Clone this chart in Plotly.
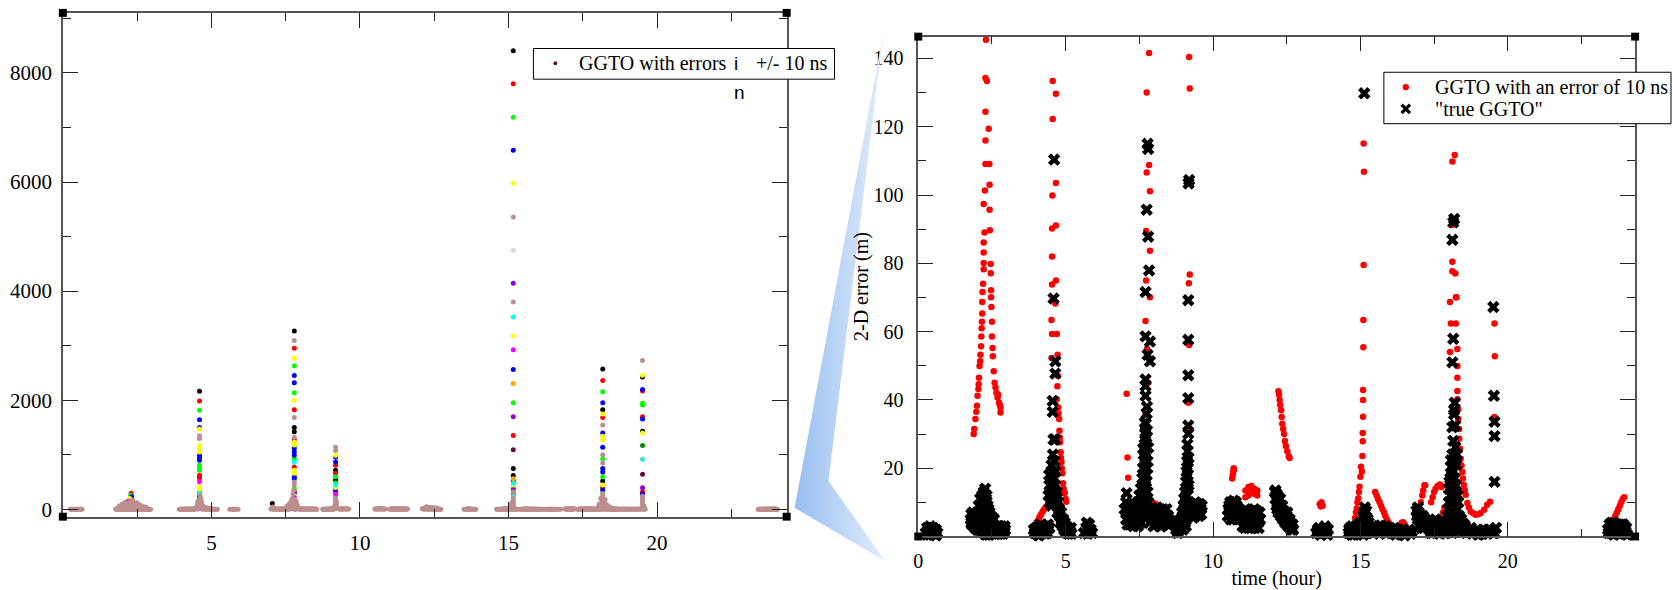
import plotly.graph_objects as go

W, H = 1672, 590

# ---------------------------------------------------------------------------
# Right panel: 2-D positioning error (m) versus time of day (hour)
# ---------------------------------------------------------------------------
# GGTO with an error of 10 ns  -> (hour, error in m)
ggto_10ns = [
    # pass around 2 h
    (1.88, 30.0), (1.90, 31.5), (1.94, 34.4), (1.97, 36.5), (1.99, 38.3), (2.01, 41.2),
    (2.04, 43.2), (2.05, 44.6), (2.06, 46.5), (2.08, 49.9), (2.10, 51.3), (2.11, 53.2),
    (2.13, 55.7), (2.14, 58.6), (2.15, 61.0), (2.16, 62.9), (2.17, 65.3), (2.17, 68.7),
    (2.18, 71.6), (2.20, 74.0), (2.22, 78.3), (2.22, 80.1), (2.22, 83.2), (2.22, 86.1),
    (2.25, 89.0), (2.22, 97.4), (2.26, 101.3), (2.28, 109.1), (2.28, 116.0), (2.28, 124.4),
    (2.28, 134.3), (2.33, 133.4), (2.30, 145.5),
    (2.39, 119.4), (2.41, 109.1), (2.42, 103.0), (2.42, 95.7), (2.43, 89.7), (2.46, 79.8),
    (2.46, 77.1), (2.47, 72.1), (2.47, 70.1), (2.48, 67.2), (2.50, 62.9), (2.50, 58.6),
    (2.52, 55.2), (2.53, 52.8), (2.56, 48.4), (2.59, 45.0), (2.62, 43.6), (2.65, 42.1),
    (2.69, 40.7), (2.71, 41.5), (2.74, 39.2), (2.77, 38.5), (2.79, 37.8), (2.79, 36.3),
    # around 4-5 h
    (4.03, 4.3), (4.08, 5.0), (4.12, 5.8), (4.17, 6.5), (4.22, 7.3), (4.27, 8.0),
    (4.33, 8.6), (4.40, 9.3), (4.43, 10.0),
    (4.56, 133.4), (4.67, 129.7), (4.56, 122.3), (4.67, 103.5), (4.55, 99.9), (4.67, 91.1),
    (4.54, 90.2), (4.54, 82.0), (4.67, 75.0), (4.54, 73.8), (4.65, 68.2), (4.52, 63.4),
    (4.54, 59.3), (4.70, 59.3), (4.52, 52.3), (4.73, 53.2), (4.74, 47.0), (4.72, 44.0),
    (4.70, 40.2), (4.75, 37.8), (4.76, 36.0), (4.78, 34.4), (4.79, 31.0), (4.80, 29.0),
    (4.81, 27.6), (4.83, 24.7), (4.84, 23.0), (4.86, 21.8), (4.87, 20.0), (4.89, 18.5),
    (4.91, 15.6), (4.93, 14.0), (4.97, 12.7), (5.00, 11.0), (5.02, 10.2),
    # around 7-8.5 h
    (7.07, 41.8), (7.10, 23.1), (7.12, 17.2),
    (7.83, 141.6), (7.75, 130.0), (7.83, 108.8), (7.75, 106.6), (7.86, 101.1), (7.73, 89.5),
    (7.86, 83.7), (7.73, 75.0), (7.86, 70.1), (7.71, 63.1), (7.76, 55.0), (7.80, 45.0),
    (7.71, 35.8), (7.74, 33.0), (7.69, 30.5), (7.67, 28.1),
    (7.89, 10.4), (7.92, 10.2), (7.98, 9.8), (8.04, 9.5), (8.09, 9.3), (8.15, 8.8),
    (8.20, 8.3), (8.26, 7.8), (8.31, 7.4), (8.37, 6.9), (8.43, 6.4),
    # around 9 h
    (9.19, 140.4), (9.21, 131.2), (9.21, 76.7), (9.18, 74.2), (9.19, 56.1), (9.16, 39.2),
    (9.16, 31.0), (9.14, 24.7), (9.12, 20.0), (9.10, 15.0), (9.05, 8.0), (8.85, 2.0),
    (8.76, 1.5),
    # 10.5-14 h
    (10.65, 17.0), (10.67, 18.0), (10.69, 19.0), (10.71, 19.5), (10.70, 20.0),
    (11.1, 11.5), (11.1, 13.5), (11.2, 12.0), (11.2, 14.5), (11.3, 13.0), (11.3, 14.8),
    (11.4, 12.5), (11.4, 14.0), (11.5, 13.5), (11.5, 12.0),
    (12.22, 42.5), (12.24, 41.5), (12.26, 40.0), (12.28, 38.5), (12.31, 37.0), (12.33, 35.0),
    (12.35, 33.0), (12.38, 31.5), (12.41, 30.0), (12.44, 28.0), (12.47, 26.5), (12.52, 25.0),
    (12.57, 23.5), (12.60, 23.0),
    (13.62, 9.5), (13.68, 10.0), (13.72, 9.0), (13.66, 8.8),
    # around 15 h
    (15.11, 115.1), (15.12, 106.8), (15.11, 79.5), (15.10, 63.4), (15.10, 55.4), (15.09, 42.9),
    (15.09, 40.0), (15.09, 35.1), (15.08, 30.3), (15.08, 27.9), (15.07, 23.6), (15.02, 20.4),
    (15.05, 19.0), (15.00, 17.5), (14.97, 14.6), (14.95, 13.0), (14.93, 11.2), (14.90, 10.0),
    (14.88, 8.3), (14.85, 7.0), (14.82, 5.4), (14.74, 3.0),
    (15.50, 13.0), (15.55, 12.0), (15.60, 11.0), (15.65, 10.0), (15.70, 9.0), (15.75, 8.0),
    (15.80, 7.0), (15.85, 6.0), (15.90, 5.0), (15.95, 4.2), (16.00, 3.5), (16.05, 3.0),
    (16.35, 3.0), (16.40, 4.0), (16.45, 4.2), (16.50, 3.5), (16.55, 2.8),
    # 17-19.6 h
    (16.95, 6.0), (17.00, 8.0), (17.05, 10.0), (17.10, 12.0), (17.13, 13.5), (17.17, 15.0),
    (17.20, 15.0),
    (17.40, 10.0), (17.45, 11.5), (17.50, 13.0), (17.55, 14.0), (17.62, 14.8), (17.70, 15.2),
    (17.75, 14.5),
    (17.80, 7.0), (17.85, 8.5), (17.90, 7.5), (17.95, 8.0), (18.00, 7.0),
    (18.12, 109.8), (18.20, 111.7), (18.12, 91.2), (18.12, 80.5), (18.12, 77.7), (18.22, 77.0),
    (18.24, 70.1), (18.04, 68.7), (18.26, 70.1), (18.07, 62.4), (18.24, 62.4), (18.04, 54.0),
    (18.29, 54.9), (18.29, 49.9), (18.29, 46.5), (18.29, 42.6), (18.29, 40.2), (18.32, 37.3),
    (18.32, 34.4), (18.35, 31.5), (18.35, 28.6), (18.38, 25.7), (18.40, 22.8), (18.43, 20.8),
    (18.46, 18.9), (18.48, 17.0), (18.51, 15.1), (18.54, 13.6), (18.57, 12.2), (18.63, 9.8),
    (18.68, 8.5), (18.74, 7.3), (18.83, 6.8), (18.91, 6.4), (19.00, 6.5), (19.08, 6.9),
    (19.20, 7.8), (19.30, 9.3), (19.40, 10.2),
    (19.55, 62.4), (19.56, 52.8), (19.55, 35.0),
    # around 23.5 h
    (23.50, 3.0), (23.55, 4.0), (23.60, 5.0), (23.65, 6.0), (23.70, 7.0), (23.75, 8.0),
    (23.80, 9.0), (23.85, 10.0), (23.90, 11.0), (23.95, 11.5),
]

# "true GGTO" -> (hour, error in m)
ggto_true = [
    # 0-3 h
    (0.25, 1.0), (0.35, 2.0), (0.40, 0.5), (0.45, 1.5), (0.50, 2.5), (0.55, 1.0), (0.60, 0.3),
    (0.40, 3.0), (0.30, 0.5), (0.30, 2.5), (0.50, 0.8), (0.60, 2.0), (0.65, 1.0),
    (1.78, 5.0), (1.80, 6.5), (1.82, 3.5), (1.85, 5.5), (1.88, 4.0), (1.90, 6.0), (1.93, 2.5),
    (1.95, 5.0), (1.98, 3.5), (2.00, 7.0), (2.02, 4.5), (2.05, 2.0), (2.05, 9.0), (2.08, 6.0),
    (2.10, 11.0), (2.12, 3.0), (2.15, 8.0), (2.17, 12.0), (2.20, 5.0), (2.20, 10.0),
    (2.22, 13.0), (2.25, 7.5), (2.27, 14.0), (2.28, 2.0), (2.30, 11.0), (2.32, 4.0),
    (2.35, 9.0), (2.37, 6.0), (2.40, 3.0), (2.42, 7.0), (2.45, 1.0), (2.47, 4.5), (2.50, 2.5),
    (2.52, 5.5), (2.55, 1.0), (2.60, 3.0), (2.62, 0.8), (2.65, 2.0), (2.70, 1.5), (2.75, 3.0),
    (2.80, 0.8), (2.85, 2.0), (2.90, 1.2), (2.93, 3.0), (2.30, 0.5), (2.15, 1.5),
    (1.80, 4.0), (1.85, 7.0), (1.90, 3.0), (1.95, 6.5), (2.00, 2.0), (2.00, 5.0), (2.05, 6.0),
    (2.10, 4.0), (2.10, 7.0), (2.12, 9.0), (2.15, 5.5), (2.18, 10.0), (2.20, 3.0), (2.20, 7.5),
    (2.25, 11.0), (2.25, 4.0), (2.30, 8.0), (2.30, 2.5), (2.32, 12.0), (2.35, 6.0),
    (2.35, 2.0), (2.38, 8.0), (2.40, 5.0), (2.42, 1.5), (2.45, 6.0), (2.48, 2.5), (2.50, 4.0),
    (2.55, 3.0), (2.57, 5.0), (2.60, 1.5), (2.68, 3.0), (2.72, 0.8), (2.78, 2.0), (2.82, 3.0),
    (2.88, 0.8), (2.95, 2.0), (2.25, 0.8), (2.40, 0.5),
    # 4-6 h
    (3.95, 1.0), (4.00, 2.5), (4.05, 0.5), (4.10, 2.0), (4.15, 3.5), (4.20, 1.0), (4.25, 2.8),
    (4.30, 0.8), (4.35, 2.0), (4.40, 3.5), (4.10, 0.3), (3.92, 2.0), (4.00, 1.0), (4.08, 3.0),
    (4.15, 1.5), (4.22, 2.5), (4.30, 3.0), (4.38, 1.0), (4.45, 2.5),
    (4.61, 110.4), (4.59, 69.7), (4.65, 51.3), (4.65, 47.7), (4.56, 39.7), (4.56, 36.5),
    (4.59, 28.4), (4.64, 28.4), (4.57, 24.0), (4.62, 22.0), (4.52, 20.9), (4.54, 18.9),
    (4.66, 19.0), (4.44, 18.0), (4.45, 15.0), (4.50, 15.0), (4.55, 16.0), (4.60, 17.0),
    (4.42, 12.0), (4.47, 10.0), (4.50, 12.0), (4.55, 13.0), (4.60, 14.0), (4.65, 15.0),
    (4.70, 13.0), (4.52, 9.0), (4.58, 10.0), (4.63, 11.0), (4.68, 12.0), (4.70, 9.0),
    (4.72, 7.0), (4.75, 10.0), (4.78, 8.0), (4.80, 6.0), (4.82, 4.0), (4.85, 7.0), (4.87, 5.0),
    (4.90, 3.0), (4.92, 5.0), (4.95, 2.0), (4.97, 4.0), (5.00, 1.5), (5.02, 3.0), (5.05, 1.0),
    (5.08, 2.5), (5.10, 0.8), (5.12, 2.0), (5.15, 1.5), (5.18, 2.5), (5.20, 0.8),
    (5.62, 1.0), (5.70, 2.5), (5.75, 0.8), (5.80, 3.5), (5.85, 2.0), (5.90, 1.0), (5.72, 4.0),
    # 7-8.6 h
    (7.07, 12.7), (7.10, 3.5), (7.05, 10.0), (7.00, 8.0), (7.05, 5.0), (7.15, 6.0),
    (7.20, 5.0), (7.25, 7.0), (7.30, 6.0), (7.30, 3.0), (7.35, 8.0), (7.40, 9.0), (7.40, 4.0),
    (7.45, 10.0), (7.50, 12.0), (7.50, 5.0), (7.55, 14.0), (7.55, 8.0), (7.60, 17.0),
    (7.60, 10.0), (7.62, 20.0), (7.65, 24.0), (7.65, 12.0), (7.68, 27.0), (7.70, 30.0),
    (7.70, 15.0), (7.72, 33.0), (7.75, 18.0), (7.77, 20.0), (7.78, 22.0), (7.80, 26.0),
    (7.69, 33.4), (7.71, 30.5), (7.63, 25.7), (7.75, 36.0), (7.76, 38.0), (7.71, 41.2),
    (7.71, 44.1), (7.71, 46.0), (7.78, 53.2), (7.86, 51.3), (7.86, 57.1), (7.71, 58.6),
    (7.71, 71.6), (7.83, 77.9), (7.80, 87.8), (7.75, 95.7), (7.80, 113.5), (7.78, 115.0),
    (7.80, 10.0), (7.78, 6.0),
    (7.18, 3.5), (7.22, 8.0), (7.28, 4.5), (7.33, 6.0), (7.38, 7.0), (7.42, 6.0), (7.48, 8.0),
    (7.52, 10.0), (7.58, 12.0), (7.62, 14.0), (7.66, 17.0), (7.68, 20.0), (7.70, 23.0),
    (7.72, 26.0), (7.74, 29.0), (7.76, 31.0), (7.73, 16.0), (7.70, 11.0), (7.66, 8.0),
    (7.60, 6.0), (7.55, 4.0), (7.45, 3.0), (7.78, 13.0), (7.82, 8.0), (7.84, 4.0),
    (7.12, 9.0), (7.10, 7.0),
    (7.95, 5.0), (8.00, 8.0), (8.05, 3.5), (8.10, 6.0), (8.10, 8.5), (8.15, 4.0), (8.20, 7.5),
    (8.25, 3.0), (8.30, 5.5), (8.30, 8.0), (8.35, 4.0), (8.40, 6.5), (8.45, 3.5), (8.50, 5.0),
    (8.55, 4.5), (7.98, 3.0), (8.02, 6.5), (8.08, 4.5), (8.12, 7.0), (8.18, 5.5), (8.22, 3.0),
    (8.28, 7.0), (8.32, 3.5), (8.38, 5.5), (8.42, 8.0), (8.48, 6.0), (8.52, 3.5),
    # 8.7-9.7 h
    (9.19, 104.4), (9.17, 103.4), (9.16, 69.2), (9.16, 57.6), (9.16, 47.2), (9.16, 40.5),
    (9.16, 32.5), (9.16, 30.1), (9.13, 27.0), (9.14, 25.0), (9.12, 22.0), (9.10, 19.0),
    (9.15, 20.0), (9.08, 16.0), (9.17, 15.0), (9.05, 13.0), (9.02, 11.0), (9.15, 10.0),
    (9.00, 9.0), (8.95, 7.0), (9.10, 6.0), (8.90, 5.0), (8.85, 4.0), (9.05, 4.0), (8.80, 3.0),
    (8.90, 2.5), (8.75, 2.0), (8.80, 1.0),
    (8.78, 2.5), (8.82, 1.5), (8.87, 3.5), (8.92, 4.0), (8.97, 6.0), (8.98, 2.0), (9.03, 8.0),
    (9.07, 10.0), (9.10, 12.0), (9.12, 16.0), (9.14, 18.0), (9.13, 8.0), (9.08, 3.0),
    (9.15, 14.0), (9.17, 23.0),
    (9.30, 7.0), (9.35, 9.0), (9.40, 6.0), (9.40, 10.0), (9.45, 8.5), (9.50, 7.5),
    (9.55, 9.5), (9.60, 6.5), (9.32, 5.5), (9.38, 8.0), (9.42, 7.5), (9.48, 9.5), (9.52, 6.0),
    (9.58, 8.0), (9.62, 9.0),
    # 10.5-14 h
    (10.50, 6.0), (10.55, 9.0), (10.60, 5.0), (10.65, 8.0), (10.70, 10.5), (10.75, 6.5),
    (10.80, 9.0), (10.85, 5.5), (10.52, 8.0), (10.58, 10.0), (10.62, 6.5), (10.68, 5.0),
    (10.72, 8.0), (10.78, 10.0), (10.82, 7.0),
    (11.00, 3.0), (11.05, 6.0), (11.10, 8.0), (11.15, 4.0), (11.20, 2.5), (11.25, 7.0),
    (11.30, 5.0), (11.35, 3.0), (11.40, 8.0), (11.45, 4.5), (11.50, 6.5), (11.55, 2.5),
    (11.60, 5.0), (11.02, 5.0), (11.08, 2.5), (11.12, 6.0), (11.18, 7.5), (11.22, 4.0),
    (11.28, 2.5), (11.32, 7.5), (11.38, 5.5), (11.42, 2.5), (11.48, 7.5), (11.52, 4.0),
    (11.58, 7.0),
    (12.10, 13.0), (12.12, 11.0), (12.15, 9.0), (12.15, 12.5), (12.20, 10.0), (12.22, 7.0),
    (12.25, 11.0), (12.28, 8.0), (12.30, 6.0), (12.35, 9.0), (12.38, 5.0), (12.40, 7.5),
    (12.45, 4.0), (12.50, 6.0), (12.55, 3.0), (12.60, 5.0), (12.65, 2.0), (12.70, 3.5),
    (12.72, 2.0), (12.12, 13.5), (12.18, 12.0), (12.18, 8.0), (12.24, 9.5), (12.28, 11.0),
    (12.32, 7.5), (12.36, 6.5), (12.42, 5.5), (12.48, 4.0), (12.52, 7.0), (12.58, 3.5),
    (12.62, 4.0), (12.68, 2.5),
    (13.50, 1.0), (13.60, 2.5), (13.65, 0.5), (13.70, 2.0), (13.80, 3.0), (13.85, 1.0),
    (13.90, 2.0), (13.55, 2.0), (13.62, 1.0), (13.75, 1.0), (13.78, 2.5), (13.88, 0.5),
    # 14.5-17.3 h
    (14.60, 1.0), (14.65, 2.5), (14.70, 0.5), (14.75, 2.0), (14.80, 1.0), (14.85, 3.0),
    (14.90, 0.8), (14.95, 2.0), (15.00, 4.0), (15.05, 2.0), (15.10, 6.0), (15.10, 0.5),
    (15.15, 3.0), (15.20, 7.5), (15.20, 1.0), (15.25, 5.0), (15.30, 1.5), (15.13, 129.8),
    (14.62, 2.0), (14.68, 1.5), (14.72, 3.0), (14.78, 0.5), (14.82, 2.0), (14.88, 1.5),
    (14.92, 3.0), (14.98, 1.0), (15.02, 3.0), (15.08, 4.0), (15.12, 7.0), (15.18, 5.0),
    (15.22, 3.0), (15.28, 4.0), (15.15, 8.5),
    (15.40, 2.0), (15.45, 1.0), (15.50, 3.0), (15.60, 1.5), (15.65, 0.8), (15.70, 3.2),
    (15.80, 2.0), (15.90, 1.0), (16.00, 2.5), (16.10, 1.5), (16.20, 0.5), (16.30, 2.0),
    (16.40, 1.0), (16.50, 0.3), (16.60, 1.5), (16.70, 0.8), (15.42, 3.0), (15.52, 1.5),
    (15.55, 2.5), (15.62, 3.0), (15.75, 1.5), (15.85, 3.0), (15.95, 2.0), (16.05, 1.0),
    (16.15, 2.5), (16.25, 1.5), (16.35, 0.8), (16.45, 2.0), (16.55, 1.0), (16.65, 2.0),
    (16.75, 1.5),
    (16.90, 7.5), (16.95, 5.0), (16.95, 8.5), (17.00, 3.0), (17.05, 6.0), (17.10, 4.0),
    (17.15, 2.5), (17.20, 5.0), (16.92, 6.0), (16.98, 7.0), (17.02, 5.0), (17.08, 2.5),
    (17.12, 6.0), (17.18, 4.0),
    # 17.3-19.6 h
    (17.35, 2.0), (17.40, 4.0), (17.45, 1.0), (17.50, 3.0), (17.55, 5.0), (17.60, 1.5),
    (17.65, 3.5), (17.70, 0.8), (17.75, 2.5), (17.80, 4.5), (17.85, 1.0), (17.90, 3.0),
    (17.32, 3.5), (17.38, 1.0), (17.42, 2.5), (17.48, 4.5), (17.52, 1.5), (17.58, 3.0),
    (17.62, 4.5), (17.68, 2.0), (17.72, 4.0), (17.78, 1.5), (17.82, 3.0), (17.88, 2.0),
    (17.92, 4.5),
    (18.18, 93.0), (18.15, 92.0), (18.12, 86.9), (18.15, 57.9), (18.12, 51.0), (18.20, 39.2),
    (18.18, 37.0), (18.18, 35.8), (18.12, 32.0), (18.22, 32.5), (18.22, 26.2), (18.28, 24.0),
    (18.07, 22.3), (18.25, 21.0), (18.07, 20.4), (18.15, 19.0), (18.10, 18.0), (18.05, 17.0),
    (18.20, 17.0), (18.25, 15.0), (18.00, 14.0), (18.10, 14.0), (18.15, 13.0), (18.05, 12.0),
    (18.30, 12.0), (18.20, 11.0), (18.00, 10.0), (18.25, 10.0), (18.05, 8.0), (18.30, 8.0),
    (18.20, 7.0), (18.10, 6.0), (17.95, 6.0), (18.35, 6.0), (18.25, 5.0), (18.15, 4.0),
    (18.45, 4.0), (18.00, 3.0), (18.30, 3.0), (18.55, 3.0), (18.40, 2.0), (18.70, 2.0),
    (18.50, 1.5), (18.90, 1.5), (18.12, 1.0), (18.60, 1.0), (18.80, 0.8), (19.00, 0.5),
    (19.10, 1.2), (19.20, 2.0), (19.30, 0.8), (19.40, 2.0), (19.50, 1.0), (19.60, 2.5),
    (17.98, 8.0), (18.02, 16.0), (18.08, 10.0), (18.12, 16.0), (18.18, 9.0), (18.22, 13.0),
    (18.28, 6.0), (18.32, 10.0), (18.38, 4.0), (18.42, 5.0), (18.48, 2.5), (18.52, 3.5),
    (18.58, 2.0), (18.65, 1.5), (18.75, 2.5), (18.85, 1.5), (18.95, 2.0), (19.05, 1.0),
    (19.15, 0.8), (19.25, 1.5), (19.35, 2.0), (19.45, 1.5), (19.55, 1.0), (18.12, 24.0),
    (18.20, 22.0), (18.15, 28.0), (18.08, 3.0),
    (19.51, 67.2), (19.53, 41.2), (19.55, 33.6), (19.55, 29.4), (19.55, 16.0),
    # around 23.5 h
    (23.40, 2.0), (23.45, 3.5), (23.50, 1.0), (23.55, 2.5), (23.60, 4.0), (23.60, 0.5),
    (23.65, 1.5), (23.70, 3.0), (23.75, 0.8), (23.80, 2.0), (23.85, 3.5), (23.90, 1.0),
    (23.95, 2.5), (24.00, 1.5), (24.05, 0.5), (23.42, 1.0), (23.48, 2.5), (23.52, 4.0),
    (23.58, 1.5), (23.68, 3.5), (23.72, 2.0), (23.78, 3.5), (23.82, 1.0), (23.88, 2.5),
    (23.92, 3.5), (23.98, 0.8), (24.02, 2.5),
]

# ---------------------------------------------------------------------------
# Left panel: GGTO with errors within +/- 10 ns, one list per set (hour, error in m)
# ---------------------------------------------------------------------------
set_black = [(4.60, 2163), (7.79, 3269), (7.79, 1503), (7.79, 1425), (9.18, 718), (9.18, 537),
             (15.16, 8405), (15.16, 749), (15.16, 620), (18.17, 2573), (18.17, 1824),
             (18.17, 519), (19.51, 2428), (19.51, 1430), (7.05, 110), (2.45, 90)]
set_red = [(4.60, 1987), (4.60, 627), (4.60, 600), (4.60, 573), (7.79, 2954), (7.79, 1824),
           (7.79, 1280), (7.79, 778), (7.79, 330), (9.18, 809), (9.18, 658), (9.18, 320),
           (15.16, 7801), (15.16, 1352), (15.16, 280), (18.17, 2362), (18.17, 1684),
           (18.17, 400), (19.51, 2168), (19.51, 1697), (19.51, 325), (2.30, 295)]
set_green = [(4.60, 1818), (4.60, 808), (4.60, 760), (4.60, 718), (4.60, 205), (7.79, 2634),
             (7.79, 2138), (7.79, 1150), (7.79, 930), (7.79, 380), (9.18, 597), (9.18, 482),
             (9.18, 240), (15.16, 7185), (15.16, 1956), (15.16, 400), (18.17, 2156),
             (18.17, 930), (18.17, 597), (18.17, 320), (19.51, 1945), (19.51, 1915),
             (2.28, 260), (2.15, 70)]
set_blue = [(4.60, 1643), (4.60, 1503), (4.60, 990), (4.60, 945), (4.60, 900), (4.60, 325),
            (4.60, 245), (7.79, 2453), (7.79, 2319), (7.79, 1116), (7.79, 1050), (7.79, 990),
            (7.79, 600), (7.79, 560), (7.79, 290), (9.18, 959), (9.18, 869), (9.18, 360),
            (15.16, 6580), (15.16, 2562), (15.16, 520), (18.17, 1956), (18.17, 1401),
            (18.17, 1141), (18.17, 749), (18.17, 687), (18.17, 360), (19.51, 2199),
            (19.51, 1655), (19.51, 280), (2.32, 230)]
set_yellow = [(4.60, 1474), (4.60, 1170), (4.60, 1110), (4.60, 1050), (4.60, 415), (4.60, 385),
              (4.60, 355), (7.79, 2772), (7.79, 2000), (7.79, 1230), (7.79, 1180), (7.79, 718),
              (7.79, 660), (7.79, 250), (9.18, 990), (9.18, 400), (15.16, 5976), (15.16, 3178),
              (15.16, 440), (18.17, 1746), (18.17, 1340), (18.17, 1274), (18.17, 446),
              (19.51, 2458), (19.51, 1401), (2.25, 200)]
set_grey = [(15.16, 4748)]
set_violet = [(15.16, 4145), (15.16, 1697), (15.16, 360), (19.51, 397)]
set_cyan = [(4.60, 285), (7.79, 870), (9.18, 446), (15.16, 3528), (15.16, 480), (2.40, 120)]
set_magenta = [(4.60, 506), (7.79, 220), (9.18, 280), (15.16, 2924), (2.20, 150)]
set_orange = [(15.16, 2308), (15.16, 560)]
set_turquoise = [(15.16, 240), (19.51, 917)]
set_green4 = [(19.51, 1171)]
set_maroon = [(15.16, 1093), (19.51, 645)]
set_brown = [(4.60, 1350), (4.60, 1297), (4.60, 143), (4.60, 110), (4.60, 80), (4.60, 50),
             (4.60, 20), (4.55, 150), (4.65, 200), (4.62, 250), (4.58, 100), (4.68, 80),
             (4.52, 60), (4.72, 40),
             (7.79, 3093), (7.79, 1684), (7.79, 1322), (7.79, 500), (7.79, 450), (7.79, 180),
             (7.79, 140), (7.79, 100), (7.79, 60), (7.55, 60), (7.62, 100), (7.68, 150),
             (7.72, 200), (7.75, 280), (7.77, 350), (7.85, 150), (7.90, 60),
             (9.18, 1141), (9.18, 1081), (9.18, 200), (9.18, 160), (9.18, 120), (9.18, 80),
             (9.18, 40),
             (15.16, 5359), (15.16, 3799), (15.16, 320), (15.16, 200), (15.16, 160),
             (15.16, 120), (15.16, 80), (15.16, 40),
             (18.17, 1546), (18.17, 1002), (18.17, 850), (18.17, 290), (18.17, 250),
             (18.17, 210), (18.17, 170), (18.17, 130), (18.17, 90), (18.17, 50), (18.10, 200),
             (18.25, 180), (18.05, 100), (18.30, 90), (18.40, 50),
             (19.51, 2730), (19.51, 240), (19.51, 200), (19.51, 160), (19.51, 120), (19.51, 80),
             (19.51, 40),
             (2.35, 170), (2.00, 100), (2.10, 130), (2.50, 120), (2.60, 80), (1.90, 60),
             (2.70, 50), (2.80, 40)]

# drawing order and colour of each set
left_sets = [
    ("black", set_black), ("red", set_red), ("green", set_green), ("blue", set_blue),
    ("yellow", set_yellow), ("grey", set_grey), ("violet", set_violet), ("cyan", set_cyan),
    ("magenta", set_magenta), ("orange", set_orange), ("turquoise", set_turquoise),
    ("green4", set_green4), ("maroon", set_maroon), ("brown", set_brown),
]
set_colors = {
    "black": "#000000", "red": "#ff0000", "green": "#00ff00", "blue": "#0000ff",
    "yellow": "#ffff00", "grey": "#dcdcdc", "violet": "#9400d3", "cyan": "#00ffff",
    "magenta": "#ff00ff", "orange": "#ffa500", "turquoise": "#40e0d0", "green4": "#008b00",
    "brown": "#bc8f8f", "maroon": "#670748",
}

SERIF = "Liberation Serif"
SANS = "Liberation Sans"


def cols(points):
    return [p[0] for p in points], [p[1] for p in points]


def px(x):
    """horizontal pixel -> paper fraction"""
    return x / W


def py(y):
    """vertical pixel (from the top) -> paper fraction"""
    return 1 - y / H


fig = go.Figure()

# ----- left panel
for name, pts in left_sets:
    t, v = cols(pts)
    fig.add_trace(go.Scatter(x=t, y=v, mode="markers", xaxis="x", yaxis="y",
                             name=name, marker=dict(size=5, color=set_colors[name]),
                             cliponaxis=False, showlegend=False, hoverinfo="skip"))
# the two lowest sets sit on the zero line
for pts in (ggto_true, ggto_10ns):
    t, v = cols(pts)
    fig.add_trace(go.Scatter(x=t, y=v, mode="markers", xaxis="x", yaxis="y",
                             marker=dict(size=5, color=set_colors["brown"]),
                             cliponaxis=False, showlegend=False, hoverinfo="skip"))

# ----- right panel
t, v = cols(ggto_10ns)
fig.add_trace(go.Scatter(x=t, y=v, mode="markers", xaxis="x2", yaxis="y2",
                         name="GGTO with an error of 10 ns",
                         marker=dict(size=6.5, color="#ff0000"), cliponaxis=False,
                         showlegend=False))
t, v = cols(ggto_true)
fig.add_trace(go.Scatter(x=t, y=v, mode="markers", xaxis="x2", yaxis="y2",
                         name='"true GGTO"',
                         marker=dict(size=11, symbol="x", color="#000000",
                                     line=dict(width=0)),
                         cliponaxis=False, showlegend=False))

# ----- zoom wedge joining the two panels (pixel coordinates on a hidden overlay axis)
fig.add_trace(go.Scatter(x=[881, 792, 883, 826, 881], y=[33, 513, 567, 486, 33],
                         xaxis="x3", yaxis="y3", mode="lines", fill="toself",
                         line=dict(width=0, color="rgba(0,0,0,0)"),
                         fillgradient=dict(type="horizontal",
                                           colorscale=[[0, "rgb(150,190,240)"],
                                                       [1, "rgb(228,238,252)"]]),
                         showlegend=False, hoverinfo="skip"))


def frame_axis(domain, rng, tickvals, minorvals, size=20, standoff=4):
    return dict(
        domain=domain, range=rng, tickmode="array", tickvals=tickvals,
        showline=True, linecolor="#555555", linewidth=1.5, mirror="allticks",
        ticks="inside", ticklen=15, tickwidth=1.2, tickcolor="#222222",
        minor=dict(tickmode="array", tickvals=minorvals, ticks="inside", ticklen=8,
                   tickwidth=1.2, tickcolor="#222222", showgrid=False),
        showgrid=False, zeroline=False, ticklabelstandoff=standoff,
        tickfont=dict(family=SERIF, size=size, color="black"),
    )


LX0, LX1, LY0, LY1 = 58, 784, 13, 522
RX0, RX1, RY0, RY1 = 916, 1635, 37, 542

xaxis = frame_axis([px(LX0), px(LX1)], [0, 24.36], [5, 10, 15, 20],
                   [2.5, 7.5, 12.5, 17.5, 22.5], size=21, standoff=6)
yaxis = frame_axis([py(LY1), py(LY0)], [-134, 9100], [0, 2000, 4000, 6000, 8000],
                   [1000, 3000, 5000, 7000, 9000], size=21, standoff=5)
xaxis2 = frame_axis([px(RX0), px(RX1)], [0, 24.32], [0, 5, 10, 15, 20],
                    [2.5, 7.5, 12.5, 17.5, 22.5], size=20, standoff=6)
yaxis2 = frame_axis([py(RY1), py(RY0)], [0, 146.4], [20, 40, 60, 80, 100, 120, 140],
                    [10, 30, 50, 70, 90, 110, 130], size=20, standoff=9)
xaxis.update(anchor="y")
yaxis.update(anchor="x")
xaxis2.update(anchor="y2", title=dict(text="time (hour)", standoff=4,
                                      font=dict(family=SERIF, size=20, color="black")))
yaxis2.update(anchor="x2", title=dict(text="2-D error (m)", standoff=0,
                                      font=dict(family=SERIF, size=20, color="black")))

shapes = []
# corner handles of both frames
for (cx, cy) in [(LX0, LY0), (LX1, LY0), (LX0, LY1), (LX1, LY1),
                 (RX0, RY0), (RX1, RY0), (RX0, RY1), (RX1, RY1)]:
    shapes.append(dict(type="rect", xref="paper", yref="paper",
                       x0=px(cx - 4), x1=px(cx + 4), y0=py(cy + 4), y1=py(cy - 4),
                       fillcolor="black", line=dict(width=0), layer="above"))


def legend_box(x0, y0, x1, y1):
    return dict(type="rect", xref="paper", yref="paper",
                x0=px(x0), x1=px(x1), y0=py(y1), y1=py(y0),
                fillcolor="white", line=dict(color="black", width=1), layer="above")


def legend_dot(cx, cy, r, color):
    return dict(type="circle", xref="paper", yref="paper",
                x0=px(cx - r), x1=px(cx + r), y0=py(cy + r), y1=py(cy - r),
                fillcolor=color, line=dict(width=0), layer="above")


def legend_cross(cx, cy, r):
    path = (f"M{px(cx - r)},{py(cy - r)} L{px(cx + r)},{py(cy + r)} "
            f"M{px(cx - r)},{py(cy + r)} L{px(cx + r)},{py(cy - r)}")
    return dict(type="path", xref="paper", yref="paper", path=path,
                line=dict(color="black", width=3.2), layer="above")


# left legend
shapes.append(legend_box(530, 49, 832, 80))
shapes.append(legend_dot(552, 64, 2, set_colors["maroon"]))
# right legend
shapes.append(legend_box(1383, 73, 1671, 125))
shapes.append(legend_dot(1405, 88, 3.2, "#ff0000"))
shapes.append(legend_cross(1405, 110, 4.2))


def label(x, y, text, family=SERIF, size=20, anchor="left"):
    return dict(x=px(x), y=py(y), xref="paper", yref="paper", text=text, showarrow=False,
                xanchor=anchor, yanchor="middle",
                font=dict(family=family, size=size, color="black"))


annotations = [
    label(574, 64, "GGTO with errors"),
    label(733, 64, "i", family=SANS, size=19, anchor="center"),
    label(751, 64, "+/- 10 ns"),
    label(737, 93, "n", family=SANS, size=19, anchor="center"),
    label(1432, 88, "GGTO with an error of 10 ns"),
    label(1432, 110, '"true GGTO"'),
]

fig.update_layout(
    width=W, height=H, margin=dict(l=0, r=0, t=0, b=0),
    font=dict(family=SERIF, size=20, color="black"),
    paper_bgcolor="white", plot_bgcolor="rgba(0,0,0,0)",
    xaxis=xaxis, yaxis=yaxis, xaxis2=xaxis2, yaxis2=yaxis2,
    xaxis3=dict(domain=[0, 1], range=[0, W], visible=False, anchor="y3", fixedrange=True),
    yaxis3=dict(domain=[0, 1], range=[H, 0], visible=False, anchor="x3", fixedrange=True),
    shapes=shapes, annotations=annotations,
    showlegend=False,
)

fig.write_html("out.html")
